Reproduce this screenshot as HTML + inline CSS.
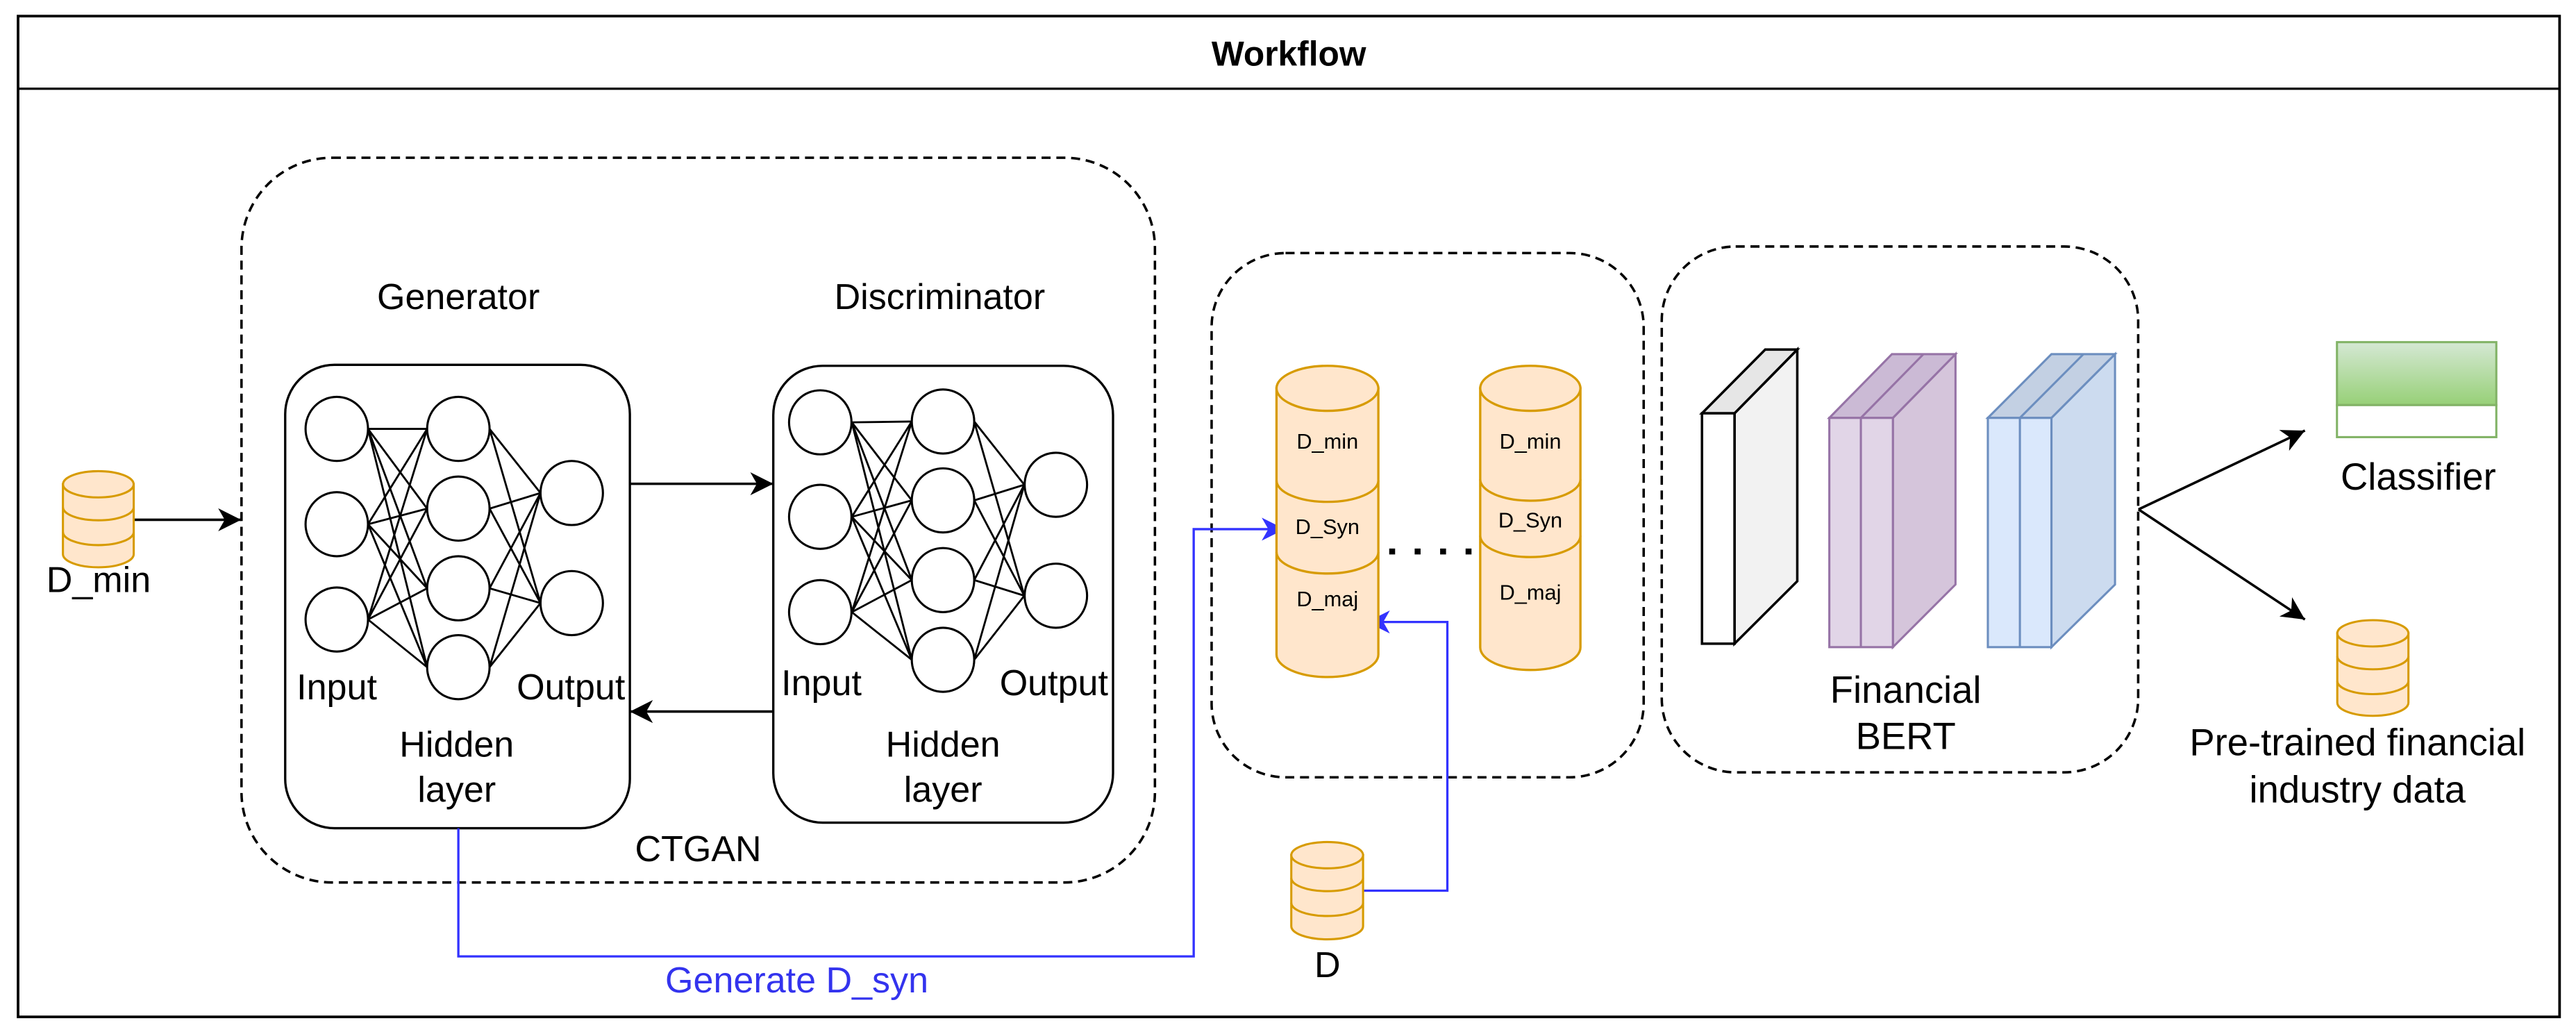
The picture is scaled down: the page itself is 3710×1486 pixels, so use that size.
<!DOCTYPE html>
<html><head><meta charset="utf-8"><style>
html,body{margin:0;padding:0;background:#fff;}
svg{display:block;}
text{font-family:"Liberation Sans",Arial,sans-serif;fill:#000;}
</style></head><body>
<svg width="3710" height="1486" viewBox="0 0 1568 628" preserveAspectRatio="none" xmlns="http://www.w3.org/2000/svg">
<defs>
<marker id="ab" markerUnits="userSpaceOnUse" markerWidth="16" markerHeight="16" refX="14" refY="7" orient="auto"><path d="M0,0 L14,7 L0,14 L4,7 Z" fill="#000"/></marker>
<marker id="abl" markerUnits="userSpaceOnUse" markerWidth="16" markerHeight="16" refX="14" refY="7" orient="auto"><path d="M0,0 L14,7 L0,14 L4,7 Z" fill="#3333ff"/></marker>
<linearGradient id="gg" x1="0" y1="0" x2="0" y2="1"><stop offset="0" stop-color="#d5e8d4"/><stop offset="1" stop-color="#97d077"/></linearGradient>
</defs>
<rect x="0" y="0" width="1568" height="628" fill="#fff"/>
<!-- outer -->
<rect x="11" y="9.8" width="1547" height="609" fill="none" stroke="#000" stroke-width="1.6"/>
<line x1="11" y1="54" x2="1558" y2="54" stroke="#000" stroke-width="1.4"/>
<text x="784.5" y="40" font-size="21" font-weight="bold" text-anchor="middle">Workflow</text>

<!-- dashed boxes -->
<g fill="none" stroke="#000" stroke-width="1.5" stroke-dasharray="5.5 3.5">
<rect x="147" y="96" width="556" height="441" rx="55" ry="55"/>
<rect x="737.5" y="154" width="263" height="319" rx="45" ry="45"/>
<rect x="1011.5" y="150" width="290" height="320" rx="45" ry="45"/>
</g>

<text x="279" y="188" font-size="22" text-anchor="middle">Generator</text>
<text x="572" y="188" font-size="22" text-anchor="middle">Discriminator</text>

<!-- generator box -->
<rect x="173.6" y="222" width="209.8" height="282" rx="30" ry="30" fill="#fff" stroke="#000" stroke-width="1.4"/>
<rect x="470.7" y="222.6" width="206.8" height="278" rx="30" ry="30" fill="#fff" stroke="#000" stroke-width="1.4"/>

<g stroke="#000" stroke-width="1.2">
<!-- gen in->hidden -->
<line x1="224" y1="261" x2="260" y2="261"/><line x1="224" y1="261" x2="260" y2="309.5"/><line x1="224" y1="261" x2="260" y2="358"/><line x1="224" y1="261" x2="260" y2="406"/>
<line x1="224" y1="319" x2="260" y2="261"/><line x1="224" y1="319" x2="260" y2="309.5"/><line x1="224" y1="319" x2="260" y2="358"/><line x1="224" y1="319" x2="260" y2="406"/>
<line x1="224" y1="377" x2="260" y2="261"/><line x1="224" y1="377" x2="260" y2="309.5"/><line x1="224" y1="377" x2="260" y2="358"/><line x1="224" y1="377" x2="260" y2="406"/>
<line x1="298" y1="261" x2="329" y2="300"/><line x1="298" y1="261" x2="329" y2="367"/>
<line x1="298" y1="309.5" x2="329" y2="300"/><line x1="298" y1="309.5" x2="329" y2="367"/>
<line x1="298" y1="358" x2="329" y2="300"/><line x1="298" y1="358" x2="329" y2="367"/>
<line x1="298" y1="406" x2="329" y2="300"/><line x1="298" y1="406" x2="329" y2="367"/>
<!-- disc -->
<line x1="518.5" y1="257" x2="555" y2="256.5"/><line x1="518.5" y1="257" x2="555" y2="304.5"/><line x1="518.5" y1="257" x2="555" y2="353"/><line x1="518.5" y1="257" x2="555" y2="401.5"/>
<line x1="518.5" y1="314.5" x2="555" y2="256.5"/><line x1="518.5" y1="314.5" x2="555" y2="304.5"/><line x1="518.5" y1="314.5" x2="555" y2="353"/><line x1="518.5" y1="314.5" x2="555" y2="401.5"/>
<line x1="518.5" y1="372.5" x2="555" y2="256.5"/><line x1="518.5" y1="372.5" x2="555" y2="304.5"/><line x1="518.5" y1="372.5" x2="555" y2="353"/><line x1="518.5" y1="372.5" x2="555" y2="401.5"/>
<line x1="593" y1="256.5" x2="623.5" y2="295"/><line x1="593" y1="256.5" x2="623.5" y2="362.5"/>
<line x1="593" y1="304.5" x2="623.5" y2="295"/><line x1="593" y1="304.5" x2="623.5" y2="362.5"/>
<line x1="593" y1="353" x2="623.5" y2="295"/><line x1="593" y1="353" x2="623.5" y2="362.5"/>
<line x1="593" y1="401.5" x2="623.5" y2="295"/><line x1="593" y1="401.5" x2="623.5" y2="362.5"/>
</g>
<g fill="#fff" stroke="#000" stroke-width="1.3">
<ellipse cx="205" cy="261" rx="19" ry="19.5"/><ellipse cx="205" cy="319" rx="19" ry="19.5"/><ellipse cx="205" cy="377" rx="19" ry="19.5"/>
<ellipse cx="279" cy="261" rx="19" ry="19.5"/><ellipse cx="279" cy="309.5" rx="19" ry="19.5"/><ellipse cx="279" cy="358" rx="19" ry="19.5"/><ellipse cx="279" cy="406" rx="19" ry="19.5"/>
<ellipse cx="348" cy="300" rx="19" ry="19.5"/><ellipse cx="348" cy="367" rx="19" ry="19.5"/>
<ellipse cx="499.3" cy="257" rx="19" ry="19.5"/><ellipse cx="499.3" cy="314.5" rx="19" ry="19.5"/><ellipse cx="499.3" cy="372.5" rx="19" ry="19.5"/>
<ellipse cx="574" cy="256.5" rx="19" ry="19.5"/><ellipse cx="574" cy="304.5" rx="19" ry="19.5"/><ellipse cx="574" cy="353" rx="19" ry="19.5"/><ellipse cx="574" cy="401.5" rx="19" ry="19.5"/>
<ellipse cx="642.7" cy="295" rx="19" ry="19.5"/><ellipse cx="642.7" cy="362.5" rx="19" ry="19.5"/>
</g>
<g font-size="22" text-anchor="middle">
<text x="205" y="425.5">Input</text><text x="347.5" y="425.5">Output</text>
<text x="500" y="423">Input</text><text x="641.5" y="423">Output</text>
<text x="278" y="460.5">Hidden</text><text x="278" y="488">layer</text>
<text x="574" y="460.5">Hidden</text><text x="574" y="488">layer</text>
<text x="425" y="524">CTGAN</text>
<text x="60" y="360.3">D_min</text>
<text x="808" y="594.6">D</text>
</g>

<!-- arrows black -->
<g stroke="#000" stroke-width="1.5" fill="none">
<line x1="81.4" y1="316.3" x2="146.8" y2="316.3" marker-end="url(#ab)"/>
<line x1="383.4" y1="294.4" x2="470.7" y2="294.4" marker-end="url(#ab)"/>
<line x1="470.7" y1="433" x2="383.4" y2="433" marker-end="url(#ab)"/>
<line x1="1301.7" y1="310" x2="1403" y2="262" marker-end="url(#ab)"/>
<line x1="1301.7" y1="310" x2="1403" y2="377" marker-end="url(#ab)"/>
</g>

<!-- blue connectors -->
<g stroke="#3333ff" stroke-width="1.4" fill="none">
<polyline points="279,504 279,582 726.6,582 726.6,322 782,322" marker-end="url(#abl)"/>
<polyline points="829.7,542 881,542 881,378.5 832,378.5" marker-end="url(#abl)"/>
</g>
<text x="485" y="604" font-size="22" text-anchor="middle" style="fill:#3333ee">Generate D_syn</text>

<!-- small db icons -->
<g fill="#ffe6cc" stroke="#d79b00" stroke-width="1.3">
<path d="M38.3,294.7 V337.2 A21.5,8 0 0 0 81.4,337.2 V294.7 Z"/>
<ellipse cx="59.85" cy="294.7" rx="21.5" ry="8"/>
<path d="M38.3,308.6 A21.5,8 0 0 0 81.4,308.6" fill="none"/>
<path d="M38.3,323.7 A21.5,8 0 0 0 81.4,323.7" fill="none"/>

<path d="M786,520.4 V563.6 A21.85,8 0 0 0 829.7,563.6 V520.4 Z"/>
<ellipse cx="807.85" cy="520.4" rx="21.85" ry="8"/>
<path d="M786,534.3 A21.85,8 0 0 0 829.7,534.3" fill="none"/>
<path d="M786,549.4 A21.85,8 0 0 0 829.7,549.4" fill="none"/>

<path d="M1422.7,385.4 V427.6 A21.65,8 0 0 0 1466,427.6 V385.4 Z"/>
<ellipse cx="1444.35" cy="385.4" rx="21.65" ry="8"/>
<path d="M1422.7,399.3 A21.65,8 0 0 0 1466,399.3" fill="none"/>
<path d="M1422.7,414.4 A21.65,8 0 0 0 1466,414.4" fill="none"/>
</g>

<!-- big cylinders -->
<g fill="#ffe6cc" stroke="#d79b00" stroke-width="1.4">
<path d="M777,236.3 V398.3 A31,13.7 0 0 0 839,398.3 V236.3 Z"/>
<ellipse cx="808" cy="236.3" rx="31" ry="13.7"/>
<path d="M777,292.4 A31,13 0 0 0 839,292.4" fill="none"/>
<path d="M777,336 A31,13 0 0 0 839,336" fill="none"/>

<path d="M901,236.3 V394 A30.5,13.7 0 0 0 962,394 V236.3 Z"/>
<ellipse cx="931.5" cy="236.3" rx="30.5" ry="13.7"/>
<path d="M901,291.7 A30.5,13 0 0 0 962,291.7" fill="none"/>
<path d="M901,326 A30.5,13 0 0 0 962,326" fill="none"/>
</g>
<g font-size="13" text-anchor="middle">
<text x="808" y="273">D_min</text><text x="808" y="325">D_Syn</text><text x="808" y="369">D_maj</text>
<text x="931.5" y="273">D_min</text><text x="931.5" y="321">D_Syn</text><text x="931.5" y="365">D_maj</text>
</g>
<g fill="#000">
<rect x="845.6" y="333.8" width="3.6" height="3.6"/><rect x="861.1" y="333.8" width="3.6" height="3.6"/><rect x="876.6" y="333.8" width="3.6" height="3.6"/><rect x="892.1" y="333.8" width="3.6" height="3.6"/>
</g>

<!-- BERT layers -->
<g stroke="#000" stroke-width="1.5" stroke-linejoin="miter">
<polygon points="1055.8,251.5 1094,212.7 1094,353.7 1055.8,391.7" fill="#f2f2f2"/>
<polygon points="1036,251.5 1074.5,212.7 1094,212.7 1055.8,251.5" fill="#e6e6e6"/>
<rect x="1036" y="251.5" width="19.8" height="140.2" fill="#fff"/>
</g>
<g stroke="#9673a6" stroke-width="1.3">
<polygon points="1152.2,254.3 1190.3,215.5 1190.3,355.7 1152.2,393.8" fill="#d5c5db"/>
<polygon points="1113.5,254.3 1151.6,215.5 1190.3,215.5 1152.2,254.3" fill="#cbbad5"/>
<line x1="1132.7" y1="254.3" x2="1170.8" y2="215.5"/>
<rect x="1113.5" y="254.3" width="38.7" height="139.5" fill="#e1d5e7"/>
<line x1="1132.7" y1="254.3" x2="1132.7" y2="393.8"/>
</g>
<g stroke="#6c8ebf" stroke-width="1.3">
<polygon points="1248.7,254.3 1287.4,215.5 1287.4,355.7 1248.7,393.8" fill="#ccdbef"/>
<polygon points="1210,254.3 1248.7,215.5 1287.4,215.5 1248.7,254.3" fill="#c3d0e3"/>
<line x1="1229.5" y1="254.3" x2="1268.2" y2="215.5"/>
<rect x="1210" y="254.3" width="38.7" height="139.5" fill="#dae8fc"/>
<line x1="1229.5" y1="254.3" x2="1229.5" y2="393.8"/>
</g>
<g font-size="23" text-anchor="middle">
<text x="1160" y="427.6">Financial</text>
<text x="1160" y="455.8">BERT</text>
<text x="1472" y="298">Classifier</text>
<text x="1435" y="459.6">Pre-trained financial</text>
<text x="1435" y="488.4">industry data</text>
</g>

<!-- classifier -->
<rect x="1422.5" y="208.2" width="97" height="38.3" fill="url(#gg)" stroke="#82b366" stroke-width="1.3"/>
<rect x="1422.5" y="246.5" width="97" height="19.5" fill="#fff" stroke="#82b366" stroke-width="1.3"/>
</svg>
</body></html>
